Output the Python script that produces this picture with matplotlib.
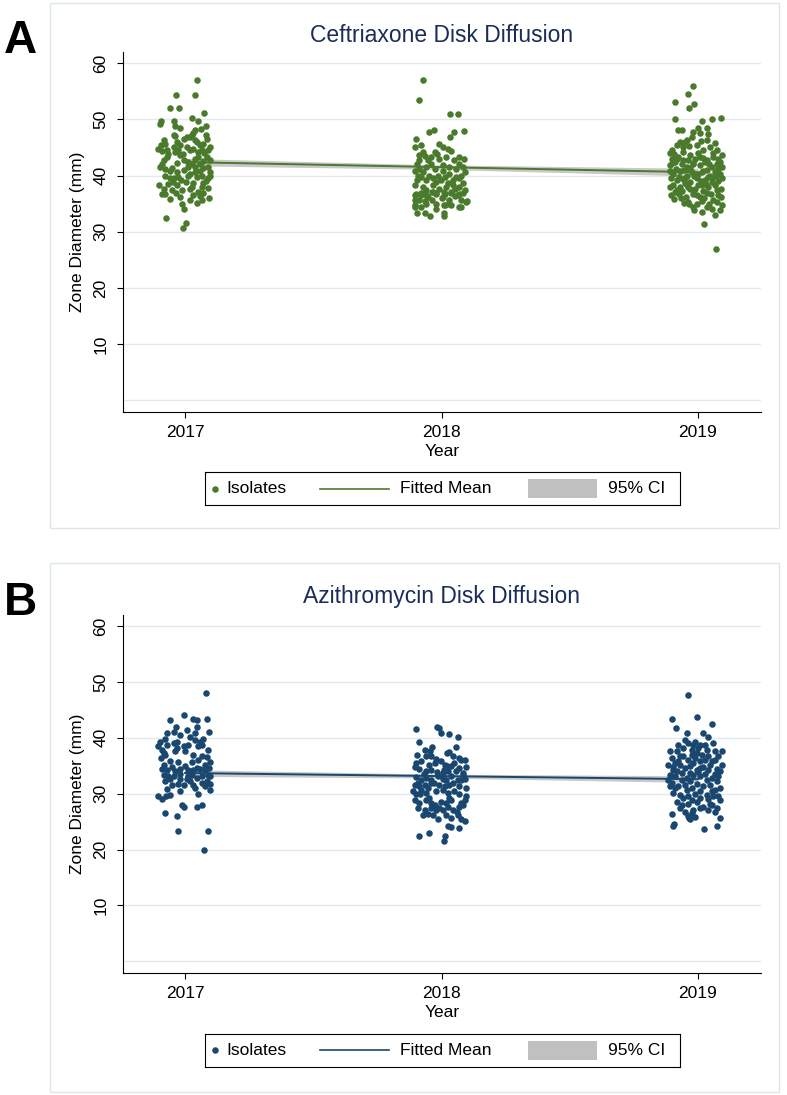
import matplotlib
matplotlib.use('Agg')
import matplotlib.pyplot as plt
from matplotlib.patches import Rectangle

plt.rcParams['font.family'] = ['Liberation Sans', 'DejaVu Sans']

years = [2017, 2018, 2019]
year_labels = ['2017', '2018', '2019']
ytick_vals = [10, 20, 30, 40, 50, 60]
grid_vals = [0, 10, 20, 30, 40, 50, 60]
legend_labels = ['Isolates', 'Fitted Mean', '95% CI']

# each isolate: (jitter offset in years, zone diameter in mm)
cef_2017 = [(0.045, 57.1), (-0.036, 54.3), (0.039, 54.3), (-0.058, 52.0), (-0.022, 52.0), (0.074, 51.2),
            (-0.094, 49.8), (-0.097, 49.2), (-0.043, 49.7), (-0.039, 48.9), (0.027, 50.3), (0.052, 49.7),
            (0.082, 48.9), (-0.019, 48.5), (0.040, 48.2), (0.061, 48.3), (-0.045, 47.2), (-0.038, 47.0),
            (0.032, 47.6), (0.026, 47.2), (0.082, 47.2), (0.087, 46.6), (-0.006, 46.6), (0.006, 46.9),
            (0.019, 46.8), (0.039, 46.3), (-0.084, 46.3), (-0.095, 45.4), (-0.078, 45.7), (-0.032, 46.0),
            (-0.019, 45.4), (0.045, 46.0), (0.058, 45.4), (0.071, 45.7), (0.091, 44.6), (0.097, 45.0),
            (-0.104, 44.8), (-0.091, 44.4), (-0.071, 44.6), (-0.045, 45.1), (-0.039, 44.2), (-0.026, 44.5),
            (0.006, 45.0), (0.019, 44.5), (0.032, 44.8), (0.052, 44.2), (0.065, 44.6), (-0.071, 43.3),
            (-0.084, 42.7), (-0.019, 43.6), (-0.006, 42.7), (0.039, 43.0), (0.052, 43.3), (0.026, 42.1),
            (0.084, 43.3), (0.097, 42.7), (-0.097, 41.5), (-0.078, 41.2), (-0.052, 41.4), (0.013, 41.6),
            (0.039, 41.6), (0.058, 42.0), (0.071, 41.4), (0.091, 41.5), (-0.032, 40.6), (0.019, 40.3),
            (0.039, 40.6), (0.097, 40.6), (0.065, 40.0), (-0.078, 40.0), (-0.058, 39.5), (-0.045, 39.5),
            (-0.026, 39.8), (0.013, 40.0), (0.045, 39.8), (0.091, 39.5), (0.097, 40.0), (-0.065, 38.5),
            (-0.048, 38.9), (-0.032, 38.3), (0.026, 38.0), (0.032, 38.6), (0.065, 38.0), (0.071, 38.6),
            (-0.084, 37.7), (-0.052, 37.5), (-0.013, 37.4), (0.019, 37.7), (0.052, 37.1), (0.071, 36.9),
            (-0.091, 36.8), (-0.078, 36.8), (-0.019, 36.2), (0.058, 36.3), (-0.013, 34.9), (0.019, 35.6),
            (0.065, 35.6), (-0.006, 34.1), (-0.076, 32.5), (0.004, 31.5), (-0.008, 30.6),
            (-0.065, 43.9), (-0.010, 43.9), (0.075, 44.0), (-0.088, 42.0), (-0.030, 42.3), (0.010, 42.5),
            (0.070, 42.6), (-0.060, 40.8), (-0.005, 41.0), (0.060, 40.9), (-0.015, 39.2), (0.080, 39.0),
            (-0.100, 38.4), (0.005, 38.8), (0.090, 37.8), (-0.035, 36.9), (0.030, 36.5), (0.095, 36.0),
            (-0.060, 35.9), (0.045, 35.2)]

cef_2018 = [(-0.073, 57.0), (-0.088, 53.4), (0.034, 50.9), (0.064, 50.9), (-0.047, 47.7), (-0.031, 48.1),
            (0.047, 47.7), (0.086, 47.9), (0.034, 46.8), (-0.099, 46.6), (-0.010, 45.7), (0.005, 45.1),
            (0.025, 44.8), (0.038, 44.4), (-0.079, 45.4), (-0.105, 45.0), (-0.027, 44.2), (-0.018, 43.8),
            (-0.073, 44.2), (-0.066, 43.4), (-0.086, 42.7), (-0.096, 42.1), (0.068, 43.3), (0.086, 43.0),
            (0.070, 42.1), (-0.053, 42.7), (-0.040, 42.1), (-0.060, 41.5), (-0.086, 41.2), (-0.105, 40.9),
            (-0.014, 40.0), (0.012, 39.8), (-0.001, 39.2), (0.031, 40.3), (0.057, 39.8), (0.077, 40.0),
            (0.090, 40.6), (-0.079, 39.8), (-0.060, 39.2), (-0.047, 40.0), (-0.096, 39.2), (-0.105, 38.3),
            (-0.073, 38.0), (-0.034, 38.3), (-0.008, 37.7), (0.018, 38.0), (0.044, 38.3), (0.070, 38.0),
            (0.083, 38.6), (-0.099, 36.8), (-0.079, 36.5), (-0.053, 36.2), (-0.021, 36.8), (0.005, 36.2),
            (0.038, 37.1), (0.064, 36.5), (0.077, 35.6), (0.096, 35.3), (-0.086, 35.6), (-0.060, 35.0),
            (-0.021, 35.0), (0.012, 34.7), (0.031, 35.0), (0.070, 34.4), (-0.105, 34.4),
            (-0.086, 43.6), (-0.040, 43.3), (-0.008, 43.0), (0.018, 43.3), (0.050, 42.7), (0.005, 41.8),
            (0.031, 41.5), (0.057, 41.2), (0.083, 41.5), (-0.027, 41.2), (-0.073, 40.6), (0.005, 40.9),
            (-0.092, 40.0), (-0.034, 39.5), (0.044, 39.2), (0.070, 39.5), (-0.021, 38.9), (-0.060, 37.4),
            (0.025, 38.6), (0.090, 37.4), (-0.034, 37.1), (0.012, 36.8), (0.051, 37.7),
            (-0.104, 36.6), (-0.081, 36.9), (-0.059, 36.6), (-0.036, 37.1), (-0.021, 36.9), (0.009, 37.1),
            (0.038, 36.9), (0.068, 36.8), (0.083, 36.9), (-0.104, 35.7), (-0.066, 35.4), (-0.036, 35.7),
            (0.002, 36.0), (0.031, 35.7), (0.053, 36.3), (0.098, 35.4), (-0.104, 34.8), (-0.081, 34.4),
            (-0.021, 34.1), (0.009, 34.8), (0.038, 34.8), (0.075, 34.4), (-0.096, 33.4), (-0.066, 33.4),
            (-0.044, 32.8), (0.009, 33.3), (0.009, 32.8)]

cef_2019 = [(-0.021, 55.9), (-0.038, 54.6), (-0.016, 52.7), (-0.034, 52.1), (-0.090, 53.1), (-0.090, 50.1),
            (0.014, 49.8), (0.053, 50.1), (0.088, 50.2), (-0.077, 48.2), (-0.064, 48.1), (-0.001, 48.5),
            (0.034, 48.4), (0.008, 47.5), (0.040, 47.4), (-0.025, 46.9), (-0.042, 46.3), (0.036, 46.3),
            (-0.070, 46.0), (-0.083, 45.4), (-0.057, 45.0), (-0.034, 45.2), (-0.005, 45.4), (0.021, 44.6),
            (0.047, 45.0), (0.073, 44.6), (-0.103, 44.6), (-0.094, 43.9),
            (-0.103, 43.0), (-0.077, 43.3), (-0.057, 42.7), (-0.031, 43.6), (-0.012, 43.0), (0.008, 43.3),
            (0.034, 42.7), (0.060, 43.3), (0.079, 43.0),
            (-0.109, 41.8), (-0.090, 42.4), (-0.064, 42.1), (-0.044, 41.5), (-0.018, 42.2), (0.008, 41.8),
            (0.027, 42.4), (0.053, 41.5), (0.073, 42.1), (0.092, 41.6),
            (-0.096, 40.3), (-0.070, 40.9), (-0.044, 40.0), (-0.025, 40.6), (0.001, 40.3), (0.021, 40.9),
            (0.047, 40.0), (0.066, 40.6), (0.086, 40.3),
            (-0.106, 39.5), (-0.083, 39.2), (-0.051, 39.6), (-0.031, 38.9), (-0.005, 39.5), (0.027, 39.2),
            (0.053, 39.6), (0.079, 39.1),
            (-0.096, 38.3), (-0.070, 38.0), (-0.044, 38.4), (-0.012, 37.7), (0.014, 38.3), (0.040, 38.0),
            (0.066, 38.4), (0.088, 37.7),
            (-0.105, 36.5), (-0.090, 37.1), (-0.047, 36.2), (-0.018, 36.8), (0.008, 36.2), (0.060, 35.6),
            (0.079, 36.5), (-0.064, 37.2), (0.034, 36.9),
            (-0.005, 35.0), (-0.018, 34.4), (0.034, 34.4), (0.053, 34.1), (-0.038, 35.3), (0.073, 35.3),
            (0.014, 33.5), (0.066, 32.9), (0.023, 31.4), (0.071, 27.0),
            (-0.110, 44.0), (-0.060, 44.2), (0.000, 44.0), (0.060, 44.0), (0.095, 43.6), (-0.080, 42.9),
            (-0.020, 42.0), (0.045, 42.0), (-0.110, 40.9), (-0.055, 41.0), (0.015, 40.7), (0.080, 41.1),
            (-0.075, 39.8), (-0.015, 39.9), (0.040, 39.8), (0.095, 39.5), (-0.110, 38.0), (-0.050, 38.7),
            (0.000, 38.4), (0.055, 38.9), (-0.080, 37.5), (-0.030, 37.6), (0.020, 37.2), (0.075, 37.4),
            (-0.065, 36.0), (-0.005, 36.5), (0.050, 36.8), (0.090, 36.2), (-0.095, 35.8), (-0.035, 34.9),
            (0.015, 35.4), (0.095, 34.8), (-0.050, 45.9), (0.010, 46.1), (0.065, 45.8), (-0.020, 47.8),
            (-0.100, 42.2), (-0.040, 42.8), (0.020, 43.1), (0.085, 42.4), (-0.085, 41.1), (-0.030, 41.3),
            (0.035, 41.0), (-0.060, 39.4), (0.010, 39.0), (0.070, 39.9), (-0.040, 37.9), (0.030, 38.5),
            (-0.075, 36.7), (0.025, 36.0), (-0.055, 35.1), (0.045, 34.9), (-0.015, 33.9), (0.085, 33.8)]

azi_2017 = [(0.082, 48.0), (-0.058, 43.2), (-0.006, 44.1), (0.030, 43.4), (0.087, 43.3), (-0.035, 42.0),
            (0.045, 42.0), (-0.071, 40.8), (-0.045, 41.1), (0.092, 41.0), (0.039, 40.8), (-0.097, 39.2),
            (-0.078, 39.8), (-0.069, 38.7), (0.019, 40.2), (0.039, 39.6), (0.058, 39.3), (0.071, 39.8),
            (-0.104, 38.5), (-0.091, 37.9), (-0.084, 37.3), (-0.045, 39.0), (-0.032, 38.2), (-0.006, 38.5),
            (0.013, 38.7), (0.052, 38.5), (0.065, 38.7), (0.091, 37.9), (-0.094, 36.4), (-0.078, 37.0),
            (-0.039, 37.6), (0.000, 37.6), (0.032, 37.0), (0.065, 36.8), (0.084, 36.5), (0.097, 35.6),
            (-0.091, 34.4), (-0.071, 34.3), (-0.052, 34.8), (-0.039, 34.0), (-0.019, 34.4), (0.000, 35.0),
            (0.013, 34.3), (0.032, 34.2), (0.045, 34.6), (0.058, 34.4), (0.078, 34.3), (0.095, 34.6),
            (-0.084, 33.4), (-0.065, 33.1), (-0.045, 33.1), (-0.019, 33.6), (0.013, 33.1), (0.026, 33.4),
            (0.045, 32.8), (0.065, 33.1), (0.091, 33.4), (0.097, 33.1), (-0.078, 32.2), (-0.052, 31.6),
            (-0.026, 31.7), (-0.006, 31.6), (0.019, 32.2), (0.032, 31.6), (0.065, 31.9), (0.084, 32.2),
            (0.097, 31.8), (-0.071, 30.8), (0.097, 30.7), (0.052, 30.0), (-0.104, 29.5), (-0.091, 29.0),
            (-0.074, 29.5), (-0.058, 29.8), (-0.006, 27.7), (-0.013, 28.0), (0.045, 27.6), (0.065, 27.9),
            (-0.078, 26.6), (-0.032, 26.0), (-0.029, 23.4), (0.088, 23.4), (0.074, 20.0),
            (-0.058, 35.9), (-0.026, 35.6), (0.026, 35.6), (0.052, 36.1), (-0.084, 35.2), (0.078, 35.2),
            (-0.019, 32.7), (0.006, 32.6), (-0.058, 32.6), (0.039, 31.0), (-0.019, 30.4), (0.078, 31.3),
            (-0.032, 39.3), (-0.019, 40.5), (0.006, 41.4), (0.045, 43.2)]

azi_2018 = [(-0.099, 41.6), (-0.018, 41.9), (-0.008, 41.7), (-0.001, 40.8), (0.031, 40.7), (0.064, 40.1),
            (-0.088, 39.2), (-0.064, 37.9), (-0.036, 38.3), (0.057, 38.3), (-0.096, 37.0), (-0.060, 36.7),
            (-0.040, 36.8), (0.021, 37.3), (0.031, 37.5), (0.044, 36.7), (0.070, 36.4), (0.090, 36.1),
            (-0.079, 35.8), (-0.047, 35.2), (-0.027, 35.5), (-0.001, 35.8), (0.012, 35.2), (0.038, 34.9),
            (0.077, 36.1), (-0.105, 34.8), (-0.086, 34.4), (-0.060, 34.0), (-0.040, 34.3), (-0.018, 33.8),
            (0.005, 33.7), (0.025, 34.0), (0.057, 34.0), (0.070, 34.6), (0.083, 33.4), (-0.099, 33.0),
            (-0.079, 32.5), (-0.060, 32.8), (-0.040, 32.5), (-0.014, 33.1), (0.005, 32.6), (0.018, 32.5),
            (0.038, 33.1), (0.064, 32.5), (0.077, 32.4), (0.090, 32.6), (-0.105, 31.6), (-0.086, 31.3),
            (-0.066, 31.6), (-0.053, 31.0), (-0.040, 31.9), (-0.008, 31.6), (0.012, 31.3), (0.031, 31.6),
            (0.070, 31.3), (0.094, 31.0), (-0.112, 30.4), (-0.099, 30.0), (-0.079, 30.7), (-0.060, 30.1),
            (-0.021, 30.4), (0.005, 30.7), (0.025, 30.1), (0.047, 30.4), (0.068, 30.0), (0.096, 29.5),
            (-0.105, 28.9), (-0.086, 28.4), (-0.060, 28.9), (-0.040, 28.3), (-0.027, 28.0), (-0.001, 28.6),
            (0.018, 28.3), (0.038, 28.8), (0.077, 28.3), (-0.092, 27.4), (-0.066, 27.1), (-0.040, 27.4),
            (-0.021, 27.0), (0.005, 27.1), (0.025, 27.6), (0.044, 27.0), (0.070, 27.7), (0.083, 27.9),
            (-0.073, 26.2), (-0.053, 26.4), (-0.034, 26.1), (0.018, 26.2), (0.038, 25.7), (0.064, 26.1),
            (0.077, 25.4), (0.090, 25.1), (-0.014, 25.5), (0.025, 24.2), (0.038, 24.1), (0.070, 23.9),
            (-0.086, 22.4), (-0.049, 22.9), (0.012, 22.4), (0.009, 21.6),
            (-0.100, 35.5), (-0.020, 36.3), (0.050, 35.5), (0.095, 34.8), (-0.070, 33.5), (0.010, 34.3),
            (0.085, 33.7), (-0.030, 32.0), (0.045, 31.9), (-0.085, 29.9), (0.030, 29.3), (-0.050, 29.2),
            (0.090, 28.9), (-0.010, 27.5), (0.060, 26.8), (-0.090, 31.9), (0.020, 35.0), (-0.045, 37.6)]

azi_2019 = [(-0.038, 47.7), (-0.103, 43.3), (-0.003, 43.7), (0.053, 42.4), (-0.086, 41.8), (-0.042, 40.9),
            (0.021, 40.8), (0.040, 40.2), (-0.051, 39.6), (-0.038, 39.0), (-0.012, 39.3), (0.008, 38.7),
            (0.027, 38.7), (0.060, 39.0), (-0.109, 37.6), (-0.083, 37.7), (-0.057, 38.1), (-0.025, 37.9),
            (0.001, 38.1), (0.034, 37.9), (0.066, 37.6), (0.092, 37.7), (-0.103, 36.4), (-0.077, 35.8),
            (-0.057, 36.7), (-0.038, 36.1), (-0.012, 36.4), (0.014, 37.0), (0.040, 36.7), (0.066, 36.1),
            (-0.116, 35.2), (-0.096, 34.8), (-0.070, 35.2), (-0.051, 34.6), (-0.031, 35.0), (-0.005, 34.3),
            (0.021, 34.8), (0.047, 35.2), (0.073, 34.4), (0.086, 34.0), (-0.109, 33.4), (-0.090, 33.1),
            (-0.064, 33.7), (-0.044, 32.8), (-0.018, 33.4), (0.008, 33.1), (0.027, 33.6), (0.053, 32.8),
            (0.079, 33.1), (-0.103, 31.9), (-0.077, 31.3), (-0.051, 31.6), (-0.025, 31.0), (-0.005, 31.8),
            (0.021, 31.3), (0.047, 31.6), (0.066, 30.7), (0.086, 31.0), (-0.096, 30.1), (-0.070, 29.8),
            (-0.038, 29.5), (-0.012, 30.0), (0.008, 29.2), (0.034, 29.8), (0.060, 29.5), (0.079, 29.6),
            (-0.083, 28.6), (-0.064, 28.0), (-0.038, 28.2), (-0.005, 28.6), (0.021, 27.7), (0.047, 28.2),
            (0.073, 27.4), (0.086, 28.9), (-0.051, 26.8), (-0.025, 26.5), (0.040, 27.1), (0.066, 26.8),
            (-0.038, 26.0), (-0.103, 26.3), (-0.099, 24.3), (0.023, 23.7), (0.073, 24.2), (-0.031, 25.4),
            (-0.094, 24.6), (-0.034, 25.7), (-0.011, 25.9), (0.086, 25.7),
            (-0.090, 35.5), (-0.018, 35.5), (0.008, 35.8), (0.053, 35.8), (-0.083, 34.0), (-0.031, 33.7),
            (0.001, 33.8), (0.040, 34.2), (0.066, 33.6), (-0.116, 32.5), (-0.064, 32.5), (-0.031, 32.2),
            (0.034, 32.5), (0.073, 32.2), (-0.090, 31.0), (-0.044, 30.7), (0.008, 30.4), (0.053, 30.4),
            (-0.057, 29.2), (-0.025, 28.9), (0.040, 29.0), (-0.109, 31.3), (-0.070, 36.7), (-0.025, 37.0),
            (0.027, 36.1), (-0.005, 37.3), (-0.077, 38.7), (-0.018, 38.7), (0.079, 36.7), (0.092, 35.2),
            (-0.099, 34.3), (0.008, 34.6), (-0.070, 27.4), (0.008, 27.4), (0.053, 28.0), (-0.018, 27.1)]

# fitted mean and 95% CI at each year
cef_fit = [42.4, 41.5, 40.6]
cef_lo = [41.75, 41.1, 39.9]
cef_hi = [43.05, 41.9, 41.3]
azi_fit = [33.7, 33.15, 32.6]
azi_lo = [33.1, 32.8, 32.0]
azi_hi = [34.3, 33.5, 33.2]

GREEN = '#4a7a2c'
NAVY = '#1a476f'
TITLE_COL = '#1c2c5a'
GRID_COL = '#e2eaee'
CI_COL = '#c0c0c0'
DOT_SIZE = 22


def draw_legend(fig, rect, color):
    # Stata-style legend: dot right next to its label, one row
    lax = fig.add_axes(rect)
    lax.set_xlim(0, 1)
    lax.set_ylim(0, 1)
    lax.set_xticks([])
    lax.set_yticks([])
    for sp in lax.spines.values():
        sp.set_linewidth(0.8)
        sp.set_color('black')
    lax.scatter([0.021], [0.5], s=DOT_SIZE, color=color, lw=0)
    lax.text(0.046, 0.5, legend_labels[0], fontsize=12.5, va='center', ha='left')
    lax.plot([0.242, 0.387], [0.5, 0.5], color=color, lw=1.2)
    lax.text(0.410, 0.5, legend_labels[1], fontsize=12.5, va='center', ha='left')
    lax.add_patch(Rectangle((0.680, 0.22), 0.145, 0.56, facecolor=CI_COL, edgecolor='none'))
    lax.text(0.848, 0.5, legend_labels[2], fontsize=12.5, va='center', ha='left')


def draw_panel(fig, ax_rect, box_rect, letter, letter_y, title, title_y,
               clusters, fit, lo, hi, color, legend_rect):
    fig.add_artist(Rectangle(box_rect[:2], box_rect[2], box_rect[3], transform=fig.transFigure,
                             facecolor='white', edgecolor='#dde6ea', lw=1.0, zorder=0))
    fig.text(0.026, letter_y, letter, fontsize=33, fontweight='bold',
             family=['Liberation Sans Narrow', 'Liberation Sans'], ha='center', va='center')
    fig.text(0.5616, title_y, title, fontsize=16.5, color=TITLE_COL, ha='center', va='center')

    ax = fig.add_axes(ax_rect)
    ax.set_facecolor('none')
    for g in grid_vals:
        ax.axhline(g, color=GRID_COL, lw=1.0, zorder=1)

    ax.fill_between(years, lo, hi, color=CI_COL, lw=0, alpha=0.85, zorder=2)
    ax.plot(years, fit, color=color, lw=1.4, zorder=2.5)

    for yr, pts in zip(years, clusters):
        xs = [yr + p[0] for p in pts]
        ys = [p[1] for p in pts]
        ax.scatter(xs, ys, s=DOT_SIZE, color=color, lw=0, zorder=3)

    ax.set_xlim(2016.758, 2019.246)
    ax.set_ylim(-2.1, 62)
    ax.set_xticks(years)
    ax.set_xticklabels(year_labels)
    ax.set_yticks(ytick_vals)
    ax.set_yticklabels([str(v) for v in ytick_vals], rotation=90, va='center')
    ax.tick_params(direction='out', length=4.5, width=0.8, labelsize=12.5)
    ax.tick_params(axis='y', pad=6)
    ax.tick_params(axis='x', pad=5)
    for side in ['top', 'right']:
        ax.spines[side].set_visible(False)
    for side in ['left', 'bottom']:
        ax.spines[side].set_linewidth(0.8)
    ax.set_ylabel('Zone Diameter (mm)', fontsize=12.5, labelpad=6)
    ax.set_xlabel('Year', fontsize=12.5, labelpad=3)

    draw_legend(fig, legend_rect, color)
    return ax


fig = plt.figure(figsize=(7.87, 10.95), dpi=100)

draw_panel(fig, [0.1563, 0.6237, 0.8107, 0.3288], [0.0635, 0.5178, 0.926, 0.4795],
           'A', 0.963, 'Ceftriaxone Disk Diffusion', 0.968,
           [cef_2017, cef_2018, cef_2019], cef_fit, cef_lo, cef_hi, GREEN,
           [0.2605, 0.5388, 0.6036, 0.0301])

draw_panel(fig, [0.1563, 0.1114, 0.8107, 0.327], [0.0635, 0.0027, 0.926, 0.4831],
           'B', 0.449, 'Azithromycin Disk Diffusion', 0.4548,
           [azi_2017, azi_2018, azi_2019], azi_fit, azi_lo, azi_hi, NAVY,
           [0.2605, 0.0256, 0.6036, 0.0301])

fig.savefig('out.png', dpi=100, facecolor='white')
